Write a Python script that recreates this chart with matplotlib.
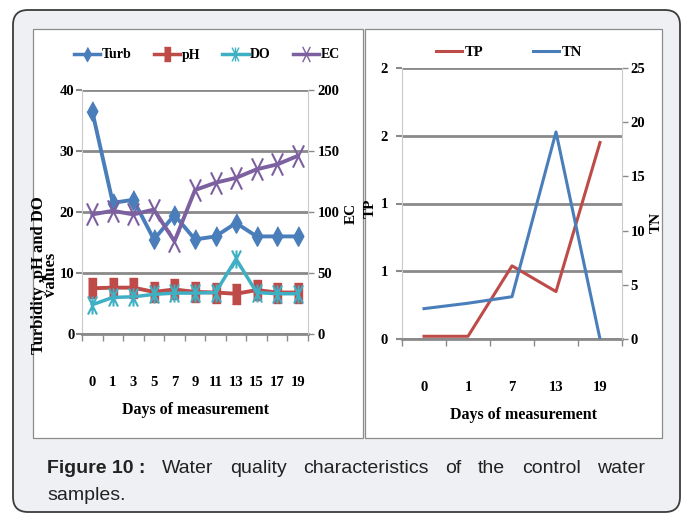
import matplotlib
matplotlib.use('Agg')
import matplotlib.pyplot as plt
import numpy as np
from matplotlib.patches import FancyBboxPatch, Rectangle
from matplotlib.path import Path
from matplotlib.lines import Line2D

# ---------------------------------------------------------------
# data
# ---------------------------------------------------------------
days_a = ['0', '1', '3', '5', '7', '9', '11', '13', '15', '17', '19']
turb = [36.5, 21.5, 22.0, 15.5, 19.5, 15.5, 16.0, 18.2, 16.0, 16.0, 16.0]
ph = [7.5, 7.6, 7.6, 6.9, 7.3, 6.9, 6.8, 6.6, 7.2, 6.8, 6.8]
do = [4.8, 6.0, 6.1, 6.5, 6.7, 6.7, 6.8, 12.3, 6.8, 6.6, 6.6]
ec = [98, 101, 98, 102, 76, 118, 124, 128, 135, 139, 146]

days_b = ['0', '1', '7', '13', '19']
tp = [0.02, 0.02, 0.54, 0.35, 1.45]
tn = [2.8, 3.3, 3.9, 19.1, 0.0]
tp_ticks = [0, 0.5, 1.0, 1.5, 2.0]
tp_ticklabels = ['0', '1', '1', '2', '2']

caption_bold = 'Figure 10 :'
caption_line1 = 'Water quality characteristics of the control water'
caption_line2 = 'samples.'

# colours (excel defaults)
c_blue = '#4a7ebb'
c_red = '#be4b48'
c_cyan = '#3fb0c4'
c_purple = '#7d60a0'
c_grid = '#8a8a8a'
c_light = '#c9c9c9'

W, H = 685, 514
serif = 'Liberation Serif'

fig = plt.figure(figsize=(W/100, H/100), dpi=100)
fig.patch.set_facecolor('white')

# outer card + white chart panels (inches, so corners stay round)
card = FancyBboxPatch((13/100, 2/100), 667/100, 502/100,
                      boxstyle='round,pad=0,rounding_size=0.15',
                      transform=fig.dpi_scale_trans, facecolor='#eef0f3',
                      edgecolor='#3c3c3c', lw=1.3, zorder=-3)
fig.patches.append(card)
for x0, x1 in [(33, 363), (365, 662)]:
    fig.patches.append(Rectangle((x0/100, (H-438)/100), (x1-x0)/100, (438-29)/100,
                                 transform=fig.dpi_scale_trans, facecolor='white',
                                 edgecolor='#8c8c8c', lw=0.9, zorder=-2))


def box(x0, y0, x1, y1):
    return [x0/W, 1-y1/H, (x1-x0)/W, (y1-y0)/H]


# tall markers (chart was squeezed sideways)
m_diam = [(0, 1), (0.55, 0), (0, -1), (-0.55, 0)]
m_sq = [(-0.4, -1), (0.4, -1), (0.4, 1), (-0.4, 1)]
m_x = Path([(-0.5, -1), (0.5, 1), (-0.5, 1), (0.5, -1)],
           [Path.MOVETO, Path.LINETO, Path.MOVETO, Path.LINETO])
m_star = Path([(-0.5, -1), (0.5, 1), (-0.5, 1), (0.5, -1), (0, -1), (0, 1)],
              [Path.MOVETO, Path.LINETO, Path.MOVETO, Path.LINETO, Path.MOVETO, Path.LINETO])


def style_axes(ax, ax2, n):
    ax.set_xlim(-0.5, n-0.5)
    ax.set_facecolor('none')
    ax2.set_facecolor('none')
    ax.spines['top'].set_visible(False)
    ax2.spines['top'].set_visible(False)
    ax.spines['left'].set_color(c_light)
    ax.spines['right'].set_visible(False)
    ax2.spines['left'].set_visible(False)
    ax2.spines['right'].set_color(c_light)
    ax2.spines['bottom'].set_visible(False)
    ax.spines['bottom'].set_color(c_grid)
    ax.spines['bottom'].set_linewidth(2)
    ax.yaxis.grid(True, color=c_grid, lw=2)
    ax.set_axisbelow(True)
    ax.set_xticks(np.arange(-0.5, n, 1.0), minor=True)
    ax.tick_params(axis='x', which='minor', length=5, color=c_grid, width=1)
    ax.tick_params(axis='x', which='major', length=0, pad=30)
    ax.tick_params(axis='y', length=4, color=c_grid, width=1.5, pad=1.5)
    ax2.tick_params(axis='y', length=4, color=c_grid, width=1, pad=3)
    for lab in ax.get_xticklabels() + ax.get_yticklabels() + ax2.get_yticklabels():
        lab.set_fontfamily(serif)
        lab.set_fontweight('bold')
        lab.set_fontsize(10.5)


# =============================================================================
# left chart : Turb, pH, DO and EC
# =============================================================================
xa = np.arange(len(days_a))
ax = fig.add_axes(box(82, 90, 308, 334))
ax2 = ax.twinx()
ax.plot(xa, turb, color=c_blue, lw=2.8, marker=m_diam, ms=14, label='Turb', zorder=3)
ax.plot(xa, ph, color=c_red, lw=2.8, marker=m_sq, ms=15, label='pH', zorder=3)
ax.plot(xa, do, color=c_cyan, lw=2.5, marker=m_star, ms=13, mew=1.5, label='DO', zorder=4)
ax2.plot(xa, ec, color=c_purple, lw=2.8, marker=m_x, ms=16, mew=1.5, label='EC')
ax.set_ylim(0, 40)
ax.set_yticks([0, 10, 20, 30, 40])
ax2.set_ylim(0, 200)
ax2.set_yticks([0, 50, 100, 150, 200])
ax.set_xticks(xa)
ax.set_xticklabels(days_a)
style_axes(ax, ax2, len(days_a))

h = [Line2D([], [], color=c_blue, lw=2.5, marker=m_diam, ms=10),
     Line2D([], [], color=c_red, lw=2.5, marker=m_sq, ms=10),
     Line2D([], [], color=c_cyan, lw=2.5, marker=m_star, ms=10),
     Line2D([], [], color=c_purple, lw=2.5, marker=m_x, ms=11)]
fig.legend(h, ['Turb', 'pH', 'DO', 'EC'], loc='center', ncol=4,
           bbox_to_anchor=(207/W, 1-55/H), frameon=False, handlelength=1.9,
           handletextpad=0.1, columnspacing=1.6,
           prop={'family': serif, 'weight': 'bold', 'size': 10})

fig.text(45/W, 1-275/H, 'Turbidity ,pH and DO\nvalues', rotation=90,
         ha='center', va='center', family=serif, weight='bold', fontsize=12,
         linespacing=0.72)
fig.text(351/W, 1-213/H, 'EC', rotation=90, ha='center', va='center',
         family=serif, weight='bold', fontsize=11)
fig.text(195/W, 1-410/H, 'Days of measurement', ha='center', va='center',
         family=serif, weight='bold', fontsize=11.5)

# =============================================================================
# right chart : TP and TN
# =============================================================================
xb = np.arange(len(days_b))
bx = fig.add_axes(box(402, 68, 622, 339))
bx2 = bx.twinx()
bx.plot(xb, tp, color=c_red, lw=2.2, label='TP', zorder=3)
bx2.plot(xb, tn, color=c_blue, lw=2.2, label='TN')
bx.set_ylim(0, 2.0)
bx.set_yticks(tp_ticks)
bx.set_yticklabels(tp_ticklabels)
bx2.set_ylim(0, 25)
bx2.set_yticks([0, 5, 10, 15, 20, 25])
bx.set_xticks(xb)
bx.set_xticklabels(days_b)
style_axes(bx, bx2, len(days_b))
bx.tick_params(axis='y', pad=6)
bx2.tick_params(axis='y', pad=2)

h2 = [Line2D([], [], color=c_red, lw=2.2), Line2D([], [], color=c_blue, lw=2.2)]
fig.legend(h2, ['TP', 'TN'], loc='center', ncol=2,
           bbox_to_anchor=(509/W, 1-52/H), frameon=False, handlelength=1.8,
           handletextpad=0.2, columnspacing=3.4,
           prop={'family': serif, 'weight': 'bold', 'size': 10.5})

fig.text(370/W, 1-208/H, 'TP', rotation=90, ha='center', va='center',
         family=serif, weight='bold', fontsize=11)
fig.text(656/W, 1-222/H, 'TN', rotation=90, ha='center', va='center',
         family=serif, weight='bold', fontsize=11)
fig.text(523/W, 1-415/H, 'Days of measurement', ha='center', va='center',
         family=serif, weight='bold', fontsize=11.5)

# =============================================================================
# caption, first line justified between x=47 and x=645
# =============================================================================
cap_kw = dict(family='Liberation Sans', fontsize=14, va='baseline', color='#222222')
y1 = 1-473/H
words = [fig.text(0, y1, caption_bold, weight='bold', **cap_kw)]
words += [fig.text(0, y1, w, **cap_kw) for w in caption_line1.split()]
fig.canvas.draw()
r = fig.canvas.get_renderer()
widths = [t.get_window_extent(r).width for t in words]
gap = (645-47-sum(widths))/(len(words)-1)
xpos = 47
for t, wd in zip(words, widths):
    t.set_x(xpos/W)
    xpos += wd+gap
fig.text(47/W, 1-500/H, caption_line2, **cap_kw)

plt.savefig('out.png', dpi=100)
